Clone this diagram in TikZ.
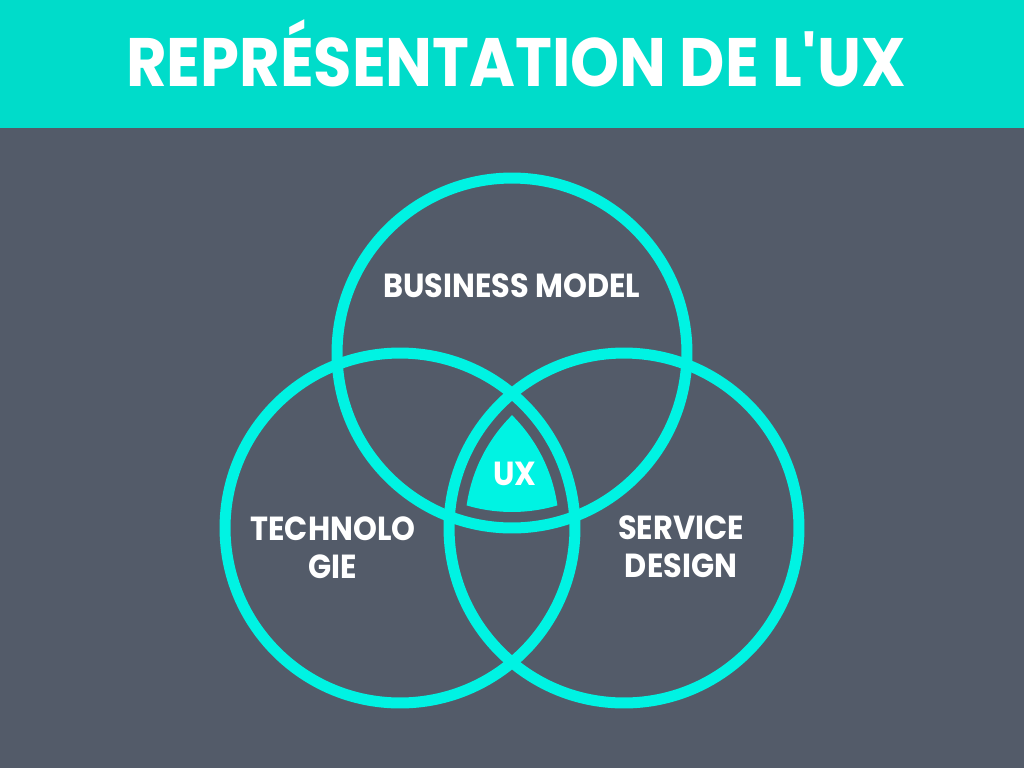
\documentclass[tikz,border=0pt]{standalone}
\usepackage{fontspec}
\setmainfont{Poppins}[FakeStretch=0.91]
\definecolor{bandteal}{HTML}{00DCCA}
\definecolor{slate}{HTML}{535B69}
\definecolor{ringcyan}{HTML}{00F3E3}

\begin{document}
\begin{tikzpicture}[x=0.02cm,y=-0.02cm]
\tikzstyle{every node}+=[inner sep=0pt, text=white]
\tikzstyle{ring}=[ringcyan, line width=0.22cm]
\tikzstyle{label}=[font=\bfseries\fontsize{19pt}{21.6pt}\selectfont, align=center, anchor=base]
% background and title band
\fill [slate] (0,0) rectangle (1024,768);
\fill [bandteal] (0,0) rectangle (1024,128);
\node [font=\bfseries\fontsize{39pt}{44pt}\selectfont, anchor=base] (title) at (516,86) {REPRÉSENTATION DE L\textquotesingle UX};
% centre of the three circles
\begin{scope}
\clip (400,528) circle (3.18cm);
\clip (624,528) circle (3.18cm);
\fill [ringcyan] (512,353) circle (3.18cm);
\end{scope}
\draw [ring] (512,353) circle (3.5cm);
\draw [ring] (400,528) circle (3.5cm);
\draw [ring] (624,528) circle (3.5cm);
% labels (base = last line)
\node [label] (business) at (512,297) {BUSINESS MODEL};
\node [label] (techno) at (333,578) {TECHNOLO\\GIE};
\node [label] (service) at (681,577) {SERVICE\\DESIGN};
\node [label] (ux) at (515,485) {UX};
\end{tikzpicture}
\end{document}
